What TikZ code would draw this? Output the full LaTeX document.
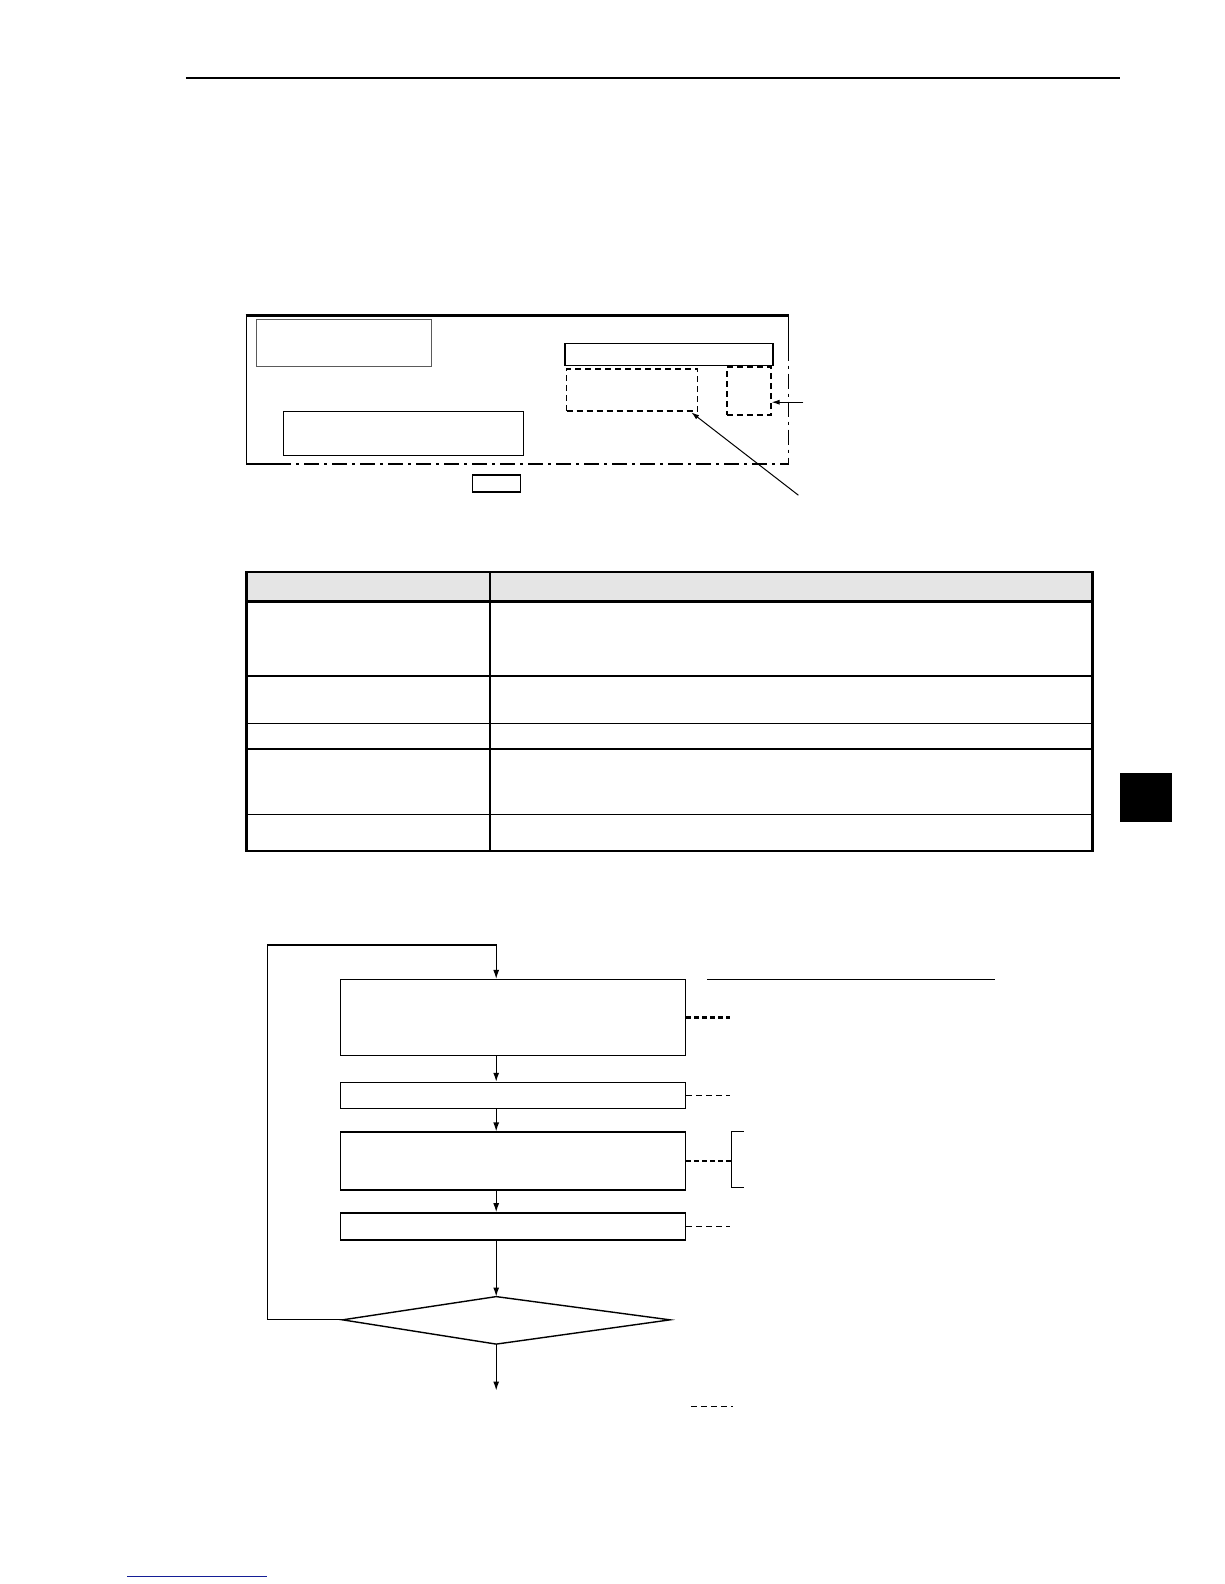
\documentclass[tikz,border=0pt]{standalone}
\usepackage{xcolor}
\usetikzlibrary{arrows,arrows.meta,shapes,positioning}
\definecolor{headgray}{RGB}{229, 229, 229}
\definecolor{linkblue}{RGB}{20, 30, 150}
\definecolor{framegray}{RGB}{90, 90, 90}

\begin{document}
\begin{tikzpicture}[x=1.0106bp, y=-1.0106bp, line width=1.4bp,
    box/.style={draw, rectangle, inner sep=0pt},
    dbox/.style={draw, rectangle, inner sep=0pt, dash pattern=on 6bp off 4bp},
    flow/.style={-{Latex[length=9bp,width=6bp]}, line width=1.2bp},
    lead/.style={dash pattern=on 6bp off 4bp, line width=1.2bp},
    leadthick/.style={dash pattern=on 5bp off 3bp, line width=2.4bp},
    chain/.style={dash pattern=on 15bp off 5bp on 3bp off 5bp, line width=1.3bp}]
            \useasboundingbox (0,0) rectangle (1211.2,1567.4);

            % Page header and side tab
            \draw (184,77) -- (1108,77);
            \fill (1108,765) rectangle (1160,813);
            \draw[linkblue, line width=1.6bp] (126,1560) -- (264,1560);

            % Panel
            \draw[line width=2.4bp] (243,312) -- (781,312);
            \draw (244,312) -- (244,459) -- (283,459);
            \draw (780,312) -- (780,342);
            \draw[chain] (780,342) -- (780,459) -- (283,459);
            \node[box, draw=framegray, minimum width=175bp, minimum height=47bp] (title) at (340.5,339.5) {};
            \node[box, minimum width=240bp, minimum height=44bp] (field) at (399,429) {};
            \node[box, minimum width=208bp, minimum height=22bp] (bar) at (662,351) {};
            \node[dbox, minimum width=131bp, minimum height=42bp] (area) at (625.5,386) {};
            \node[dbox, minimum width=44bp, minimum height=48bp] (mark) at (741,387) {};
            \node[box, minimum width=48bp, minimum height=17bp] (tag) at (491,478.5) {};
            \coordinate (markin) at (795,398);
            \coordinate (areain) at (790,490);
            \coordinate (areatip) at (684,408);
            \draw[-{Latex[length=8bp,width=5bp]}, line width=1bp] (markin) -- (mark.east |- markin);
            \draw[-{Latex[length=8bp,width=5bp]}, line width=1bp] (areain) -- (areatip);

            % Table
            \fill[headgray] (244,566) rectangle (1081,595);
            \foreach \y in {669,716,741,806}
                \draw (244,\y) -- (1081,\y);
            \draw (485,566) -- (485,842);
            \draw[line width=2.6bp] (244,595) -- (1081,595);
            \draw[line width=2.6bp] (244,566) rectangle (1081,842);

            % Flow chart
            \node[box, minimum width=345bp, minimum height=76bp] (read) at (507.5,1007) {};
            \node[box, minimum width=345bp, minimum height=26bp] (set) at (507.5,1084) {};
            \node[box, minimum width=345bp, minimum height=58bp] (run) at (507.5,1149) {};
            \node[box, minimum width=345bp, minimum height=27bp] (out) at (507.5,1213.5) {};
            \coordinate (ctop) at (491,1283);
            \coordinate (cright) at (663,1306);
            \coordinate (cbot) at (491,1330);
            \coordinate (cleft) at (339,1306);
            \draw (ctop) -- (cright) -- (cbot) -- (cleft) -- cycle;
            \coordinate (loopa) at (265,1306);
            \coordinate (loopb) at (265,935);
            \coordinate (loopc) at (491,935);
            \coordinate (stop) at (491,1376);
            \draw[flow] (cleft) -- (loopa) -- (loopb) -- (loopc) -- (loopc |- read.north);
            \draw[flow] (read.south -| loopc) -- (loopc |- set.north);
            \draw[flow] (set.south -| loopc) -- (loopc |- run.north);
            \draw[flow] (run.south -| loopc) -- (loopc |- out.north);
            \draw[flow] (out.south -| loopc) -- (ctop);
            \draw[flow] (cbot) -- (stop);

            % Notes
            \coordinate (bracket) at (724,1149);
            \draw[leadthick] (read.east) -- ++(43,0);
            \draw[lead] (set.east) -- ++(43,0);
            \draw[leadthick] (run.east) -- (bracket);
            \draw[line width=1.2bp] (736,1120) -- (724,1120) -- (724,1175) -- (736,1175);
            \draw[lead] (out.east) -- ++(43,0);
            \draw[lead] (684,1392) -- (725,1392);
            \draw[line width=1.2bp] (700,969) -- (985,969);
        \end{tikzpicture}
\end{document}
